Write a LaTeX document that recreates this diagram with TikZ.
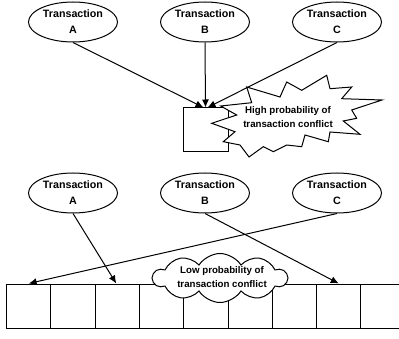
\documentclass[tikz,border=0pt]{standalone}
\usepackage{fontspec}
\setmainfont{Liberation Sans}
\usetikzlibrary{shapes.geometric,shapes.symbols,arrows.meta}
\begin{document}
\begin{tikzpicture}[x=1pt,y=-1pt,
  line width=1pt,
  trans/.style={draw,ellipse,minimum width=89pt,minimum height=40pt,inner sep=0pt,align=center,
    font=\fontsize{10.7}{16}\selectfont\bfseries},
  cell/.style={draw,minimum width=44.3pt,minimum height=44pt,inner sep=0pt},
  label/.style={align=center,font=\fontsize{9.7}{14.5}\selectfont\bfseries,inner sep=0pt},
  arr/.style={-{Latex[length=8pt,width=7pt]}}]
\useasboundingbox (0,0) rectangle (399,339);
% ---------- upper diagram ----------
\node[trans] (A1) at (73,22) {Transaction\\A};
\node[trans] (B1) at (205,22) {Transaction\\B};
\node[trans] (C1) at (337,22) {Transaction\\C};
\node[cell,minimum width=45pt] (sq) at (205.5,130) {};
\filldraw[fill=white]
  (246.7,87) -- (280,97) -- (286.7,82) -- (301.7,90.3) -- (326.7,75.3) -- (330,88.7)
  -- (351.7,87) -- (341.7,98.7) -- (382,100) -- (351.7,110) -- (356.7,118.3)
  -- (343.3,121) -- (360,134.3) -- (330,132) -- (328.3,141.7) -- (305,135)
  -- (301.7,146.7) -- (286.7,145) -- (273.3,151.7) -- (263.3,146.7) -- (249,157)
  -- (240,145) -- (223.3,141.7) -- (235,131.7) -- (211.7,123.3) -- (236.7,115)
  -- (220.7,106) -- (251.7,102.7) -- cycle;
\node[label] (hp) at (288,117) {High probability of\\transaction conflict};
\draw[arr] (A1.south) -- ([xshift=-2pt]sq.north);
\draw[arr] (B1.south) -- (sq.north);
\draw[arr] (C1.south) -- ([xshift=2pt]sq.north);
% ---------- lower diagram ----------
\node[trans] (A2) at (73,193) {Transaction\\A};
\node[trans] (B2) at (205,193) {Transaction\\B};
\node[trans] (C2) at (337,193) {Transaction\\C};
\foreach \i in {1,...,9}
  \node[cell] (c\i) at ({6.5+44.3*(\i-0.5)},306) {};
\node[cloud,draw,fill=white,cloud puffs=10,cloud puff arc=115,aspect=2.7,
  minimum width=134pt,minimum height=49pt,inner sep=0pt] (cl) at (220,278) {};
\node[label] (lp) at (222,277) {Low probability of\\transaction conflict};
\draw[arr] (A2.south) -- ([xshift=-1pt]c3.north);
\draw[arr] (C2.south) -- (c1.north);
\draw[arr] (B2.south) -- (c8.north);
\end{tikzpicture}
\end{document}
